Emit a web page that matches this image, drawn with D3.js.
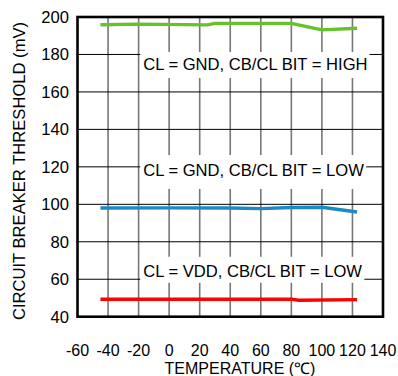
<!DOCTYPE html>
<html>
<head>
<meta charset="utf-8">
<script src="https://cdn.jsdelivr.net/npm/d3@7"></script>
<style>
  body { margin: 0; background: #fff; }
  text { font-family: Arial, "Liberation Sans", sans-serif; fill: #000; }
</style>
</head>
<body>
<div id="chart"></div>
<script>
/* temperature sweep for each trace (degC) and threshold readings (mV) */
const highTemp = [-45, -20, 25, 30, 80, 100, 123]
const highMv = [195.9, 196.2, 195.8, 196.6, 196.6, 193.1, 194.0]

const lowTemp = [-45, 0, 40, 60, 80, 100, 123]
const lowMv = [98.0, 98.1, 98.0, 97.7, 98.3, 98.4, 95.9]

const vddTemp = [-45, 80, 85, 123]
const vddMv = [49.3, 49.4, 48.8, 49.1]

/* axis ticks */
const xTicks = [-60, -40, -20, 0, 20, 40, 60, 80, 100, 120, 140]
const yTicks = [40, 60, 80, 100, 120, 140, 160, 180, 200]

/* trace annotations: text start (degC), baseline and white box (mV) */
const labelText = ['CL = GND, CB/CL BIT = HIGH', 'CL = GND, CB/CL BIT = LOW', 'CL = VDD, CB/CL BIT = LOW']
const labelT = [-17.0, -17.0, -17.0]
const labelMv = [171.7, 115.1, 61.2]
const labelBoxTop = [181.3, 126.3, 72.0]
const labelBoxBottom = [167.4, 108.2, 58.1]

const W = 398, H = 376
const margin = { top: 17, left: 77.5, right: 15, bottom: 59.3 }

const svg = d3.select('#chart').append('svg')
  .attr('width', W)
  .attr('height', H)

const x = d3.scaleLinear().domain([-60, 140]).range([margin.left, W - margin.right])
const y = d3.scaleLinear().domain([40, 200]).range([H - margin.bottom, margin.top])

/* grid: gray verticals, black horizontals */
svg.append('g')
  .selectAll('line')
  .data(xTicks.slice(1, -1))
  .join('line')
  .attr('x1', d => x(d)).attr('x2', d => x(d))
  .attr('y1', y(200)).attr('y2', y(40))
  .attr('stroke', '#777')
  .attr('stroke-width', 1.6)

svg.append('g')
  .selectAll('line')
  .data(yTicks.slice(1, -1))
  .join('line')
  .attr('x1', x(-60)).attr('x2', x(140))
  .attr('y1', d => y(d)).attr('y2', d => y(d))
  .attr('stroke', '#000')
  .attr('stroke-width', 1)

/* annotation labels sit on white boxes that cut the grid */
const labels = labelText.map((t, i) => ({
  text: t, t: labelT[i], mv: labelMv[i], top: labelBoxTop[i], bottom: labelBoxBottom[i]
}))

const lab = svg.append('g').selectAll('g').data(labels).join('g')
lab.append('rect').attr('class', 'box')
lab.append('text')
  .attr('x', d => x(d.t))
  .attr('y', d => y(d.mv))
  .style('font-size', '16.6px')
  .text(d => d.text)
lab.each(function (d) {
  const g = d3.select(this)
  const bb = g.select('text').node().getBBox()
  g.select('rect')
    .attr('x', bb.x - 3)
    .attr('width', bb.width + 5)
    .attr('y', y(d.top))
    .attr('height', y(d.bottom) - y(d.top))
    .attr('fill', '#fff')
})

/* traces */
const line = d3.line().x(d => x(d[0])).y(d => y(d[1]))
const series = [
  { t: highTemp, v: highMv, color: '#66c22b' },
  { t: lowTemp, v: lowMv, color: '#1a8ac6' },
  { t: vddTemp, v: vddMv, color: '#ff0000' }
]
svg.append('g')
  .selectAll('path')
  .data(series)
  .join('path')
  .attr('d', d => line(d.t.map((t, i) => [t, d.v[i]])))
  .attr('fill', 'none')
  .attr('stroke', d => d.color)
  .attr('stroke-width', 3.4)
  .attr('stroke-linejoin', 'round')

/* plot frame */
svg.append('rect')
  .attr('x', x(-60)).attr('y', y(200))
  .attr('width', x(140) - x(-60))
  .attr('height', y(40) - y(200))
  .attr('fill', 'none')
  .attr('stroke', '#000')
  .attr('stroke-width', 2.6)

/* tick labels */
svg.append('g')
  .selectAll('text')
  .data(yTicks)
  .join('text')
  .attr('x', 69)
  .attr('y', d => y(d))
  .attr('dy', '0.35em')
  .attr('text-anchor', 'end')
  .style('font-size', '16.6px')
  .text(d => d)

svg.append('g')
  .selectAll('text')
  .data(xTicks)
  .join('text')
  .attr('x', d => x(d))
  .attr('y', 355.5)
  .attr('text-anchor', 'middle')
  .style('font-size', '16px')
  .text(d => d)

/* axis titles */
svg.append('text')
  .attr('x', 240)
  .attr('y', 373.5)
  .attr('text-anchor', 'middle')
  .style('font-size', '16px')
  .text('TEMPERATURE (℃)')

svg.append('text')
  .attr('transform', 'translate(25,171) rotate(-90)')
  .attr('text-anchor', 'middle')
  .style('font-size', '16.6px')
  .text('CIRCUIT BREAKER THRESHOLD (mV)')
</script>
</body>
</html>
